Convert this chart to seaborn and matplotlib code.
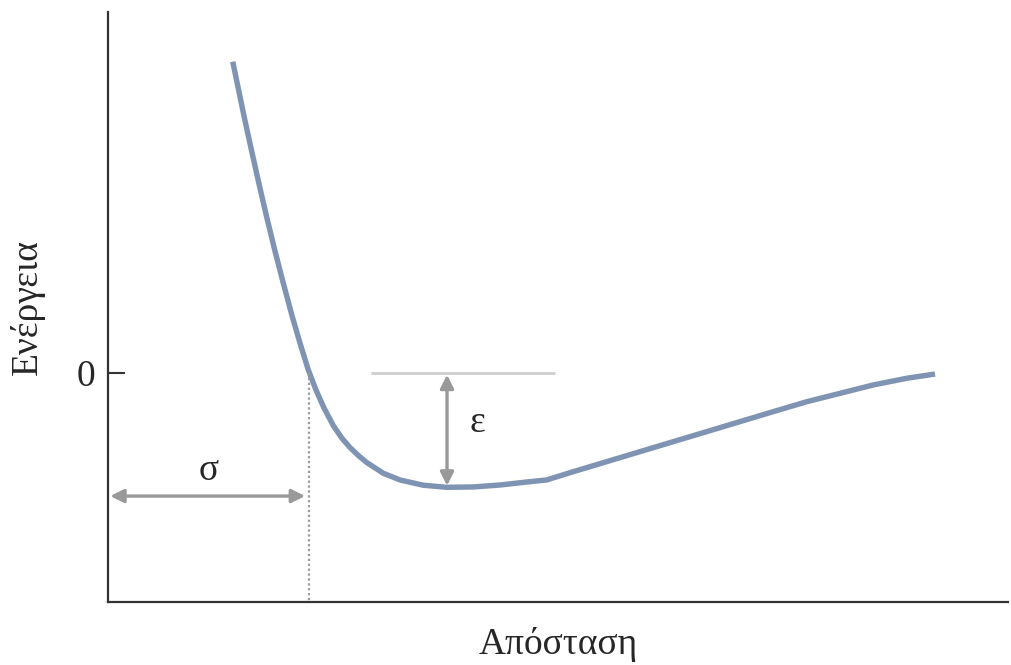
import matplotlib
matplotlib.use("Agg")
import matplotlib.pyplot as plt
import seaborn as sns
import pandas as pd

# Data (distance in axis units 0-100, energy in units of epsilon)
distance = [13.86, 15.11, 15.97, 16.78, 17.63, 18.52, 19.48, 20.44, 21.33, 22.22,
            23.11, 24.0, 25.03, 25.97, 26.89, 27.81, 28.74, 30.59, 32.44, 35.03,
            37.63, 40.59, 43.56, 46.52, 48.74, 51.70, 55.41, 59.11, 62.81, 66.52,
            70.22, 73.92, 77.63, 81.33, 85.03, 88.74, 91.89]
energy = [2.707, 2.235, 1.927, 1.644, 1.357, 1.071, 0.780, 0.500, 0.261, 0.035,
          -0.148, -0.304, -0.457, -0.565, -0.648, -0.717, -0.778, -0.872, -0.930, -0.976,
          -0.994, -0.991, -0.974, -0.948, -0.930, -0.858, -0.771, -0.684, -0.597, -0.510,
          -0.423, -0.336, -0.250, -0.177, -0.104, -0.046, -0.009]
sigma_x = 22.3
epsilon_depth = -1.0
min_x = 37.67
y_ticks = [0]
y_tick_labels = ["0"]
xlabel = "Απόσταση"
ylabel = "Ενέργεια"

sns.set_theme(style="white")
plt.rcParams['font.family'] = ['Liberation Serif', 'DejaVu Serif']

fig = plt.figure(figsize=(10.12, 6.65), dpi=100)
ax = fig.add_axes([108/1012, (665-601.5)/665, 900/1012, (601.5-12)/665])

df = pd.DataFrame({"x": distance, "y": energy})
sns.lineplot(data=df, x="x", y="y", ax=ax, color="#7f94b2", linewidth=3.9,
             sort=False, estimator=None, solid_capstyle="butt", solid_joinstyle="round")

ax.set_xlim(0, 100)
ax.set_ylim(-1.987, 3.139)

# reference lines
ax.plot([29.2, 49.7], [0, 0], color="#cccccc", lw=2.0, solid_capstyle="butt")
ax.plot([sigma_x, sigma_x], [0, -1.987], color="#999999", lw=1.6, linestyle=(0, (1, 1.2)))

# sigma arrow
ax.annotate("", xy=(0.25, -1.07), xytext=(21.9, -1.07),
            arrowprops=dict(arrowstyle="<|-|>", color="#999999", lw=2.4,
                            mutation_scale=20, shrinkA=0, shrinkB=0))
ax.text(11.2, -0.85, "σ", fontsize=27, ha="center", va="center")

# epsilon arrow
ax.annotate("", xy=(min_x, -0.015), xytext=(min_x, epsilon_depth + 0.02),
            arrowprops=dict(arrowstyle="<|-|>", color="#999999", lw=2.4,
                            mutation_scale=20, shrinkA=0, shrinkB=0))
ax.text(41.0, -0.43, "ε", fontsize=27, ha="center", va="center")

ax.set_xticks([])
ax.set_yticks(y_ticks)
ax.set_yticklabels(y_tick_labels)
ax.tick_params(axis="y", direction="in", length=12, width=1.5, color="#333333",
               pad=9, labelsize=27, left=True)
ax.set_xlabel(xlabel, fontsize=27, labelpad=18)
ax.set_ylabel(ylabel, fontsize=27, labelpad=23)

for side in ["top", "right"]:
    ax.spines[side].set_visible(False)
for side in ["left", "bottom"]:
    ax.spines[side].set_color("#333333")
    ax.spines[side].set_linewidth(1.6)

fig.savefig("out.png", dpi=100)
